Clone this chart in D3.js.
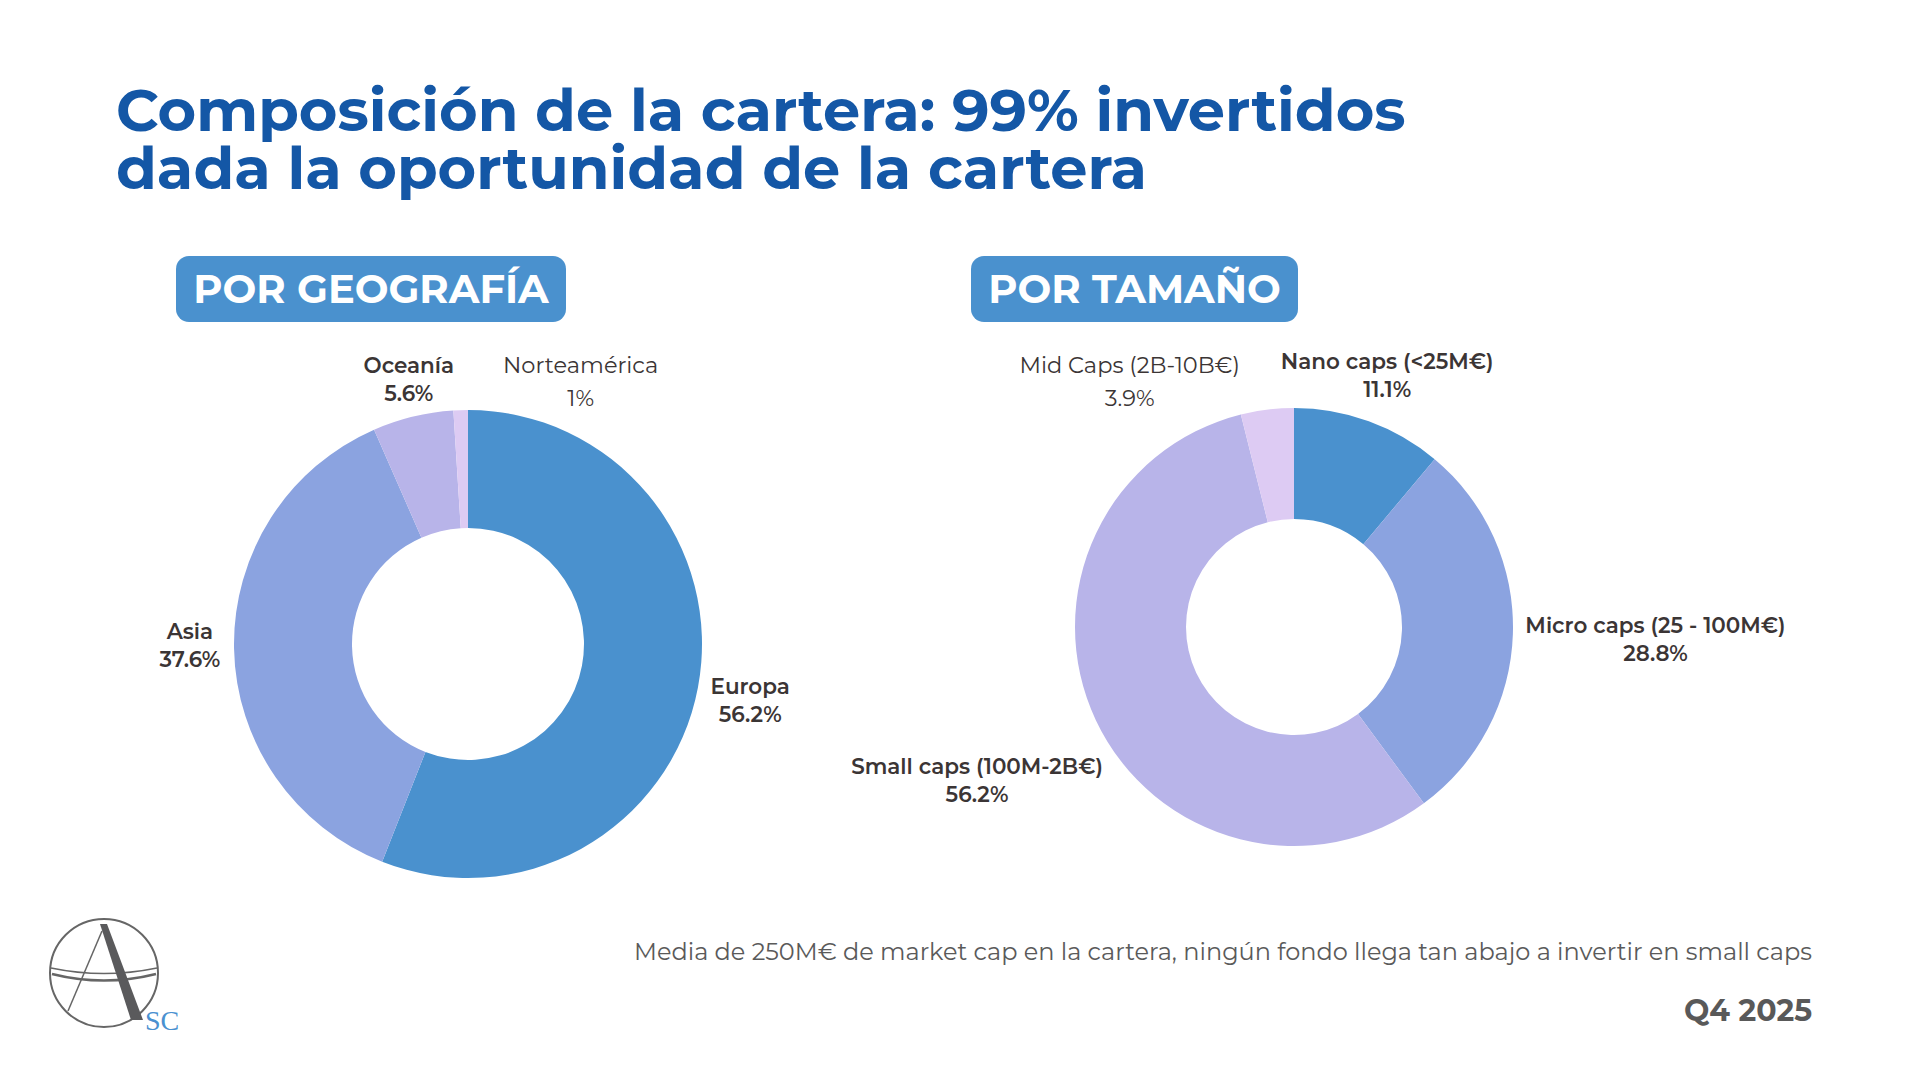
<!DOCTYPE html>
<html>
<head>
<meta charset="utf-8">
<script src="https://cdn.jsdelivr.net/npm/d3@7"></script>
<style>
  html, body { margin: 0; padding: 0; background: #fff; }
  #root { width: 1920px; height: 1080px; }
  text { font-family: Montserrat, Inter, "Open Sans", sans-serif; }
</style>
</head>
<body>
<div id="root"></div>
<script>
// --- data ---
const geoNames = ["Europa", "Asia", "Oceanía", "Norteamérica"];
const geoValues = [56.2, 37.6, 5.6, 1];
const geoLabels = ["56.2%", "37.6%", "5.6%", "1%"];

const sizeNames = ["Nano caps (<25M€)", "Micro caps (25 - 100M€)", "Small caps (100M-2B€)", "Mid Caps (2B-10B€)"];
const sizeValues = [11.1, 28.8, 56.2, 3.9];
const sizeLabels = ["11.1%", "28.8%", "56.2%", "3.9%"];

const titleLines = ["Composición de la cartera: 99% invertidos", "dada la oportunidad de la cartera"];
const footNote = "Media de 250M€ de market cap en la cartera, ningún fondo llega tan abajo a invertir en small caps";
const period = "Q4 2025";

// --- styling ---
const sliceColors = ["#4a91ce", "#8ba3e0", "#b8b4e9", "#ddcbf3"];
const textDark = "#3b3535";
const titleBlue = "#1457a6";
const pillBlue = "#4a91ce";
const regularLabels = ["Norteamérica", "Mid Caps (2B-10B€)"];
// labels PowerPoint pushed aside to avoid collisions
const labelNudge = {
	"Europa": [-5, 4],
	"Asia": [5, -4],
	"Oceanía": [11, 7],
	"Norteamérica": [123, 21],
	"Nano caps (<25M€)": [-24, -4],
	"Micro caps (25 - 100M€)": [-5, 4],
	"Small caps (100M-2B€)": [11, 41],
	"Mid Caps (2B-10B€)": [-122, 20]
};

const svg = d3.select("#root")
	.append("svg")
		.attr("width", 1920)
		.attr("height", 1080);

// title
svg.append("g")
	.selectAll("text")
	.data(titleLines)
	.enter()
	.append("text")
		.attr("x", 116)
		.attr("y", (d, i) => 131 + i * 58)
		.attr("fill", titleBlue)
		.attr("font-size", 59)
		.attr("font-weight", 700)
		.text(d => d);

const drawPill = (label, x, y, w, h) => {
	const g = svg.append("g");
	g.append("rect")
		.attr("x", x).attr("y", y)
		.attr("width", w).attr("height", h)
		.attr("rx", 13)
		.attr("fill", pillBlue);
	g.append("text")
		.attr("x", x + w / 2)
		.attr("y", y + h / 2 + 14)
		.attr("text-anchor", "middle")
		.attr("fill", "#fff")
		.attr("font-size", 40)
		.attr("font-weight", 700)
		.text(label);
};

drawPill("POR GEOGRAFÍA", 176, 256, 390, 66);
drawPill("POR TAMAÑO", 971, 256, 327, 66);

const drawDonut = (names, values, labels, cx, cy, outer, inner) => {
	const rows = names.map((n, i) => ({ name: n, value: values[i], label: labels[i], i }));

	const pie = d3.pie()
		.value(d => d.value)
		.sort(null);

	const arc = d3.arc()
		.innerRadius(inner)
		.outerRadius(outer);

	const g = svg.append("g")
		.attr("transform", `translate(${cx}, ${cy})`);

	const arcs = pie(rows);

	g.selectAll("path")
		.data(arcs)
		.enter()
		.append("path")
			.attr("d", arc)
			.attr("fill", d => sliceColors[d.data.i]);

	const gap = outer * 1.08;

	arcs.forEach(d => {
		const a = (d.startAngle + d.endAngle) / 2;
		const sx = Math.sin(a), sy = -Math.cos(a);
		const regular = regularLabels.includes(d.data.name);
		const lineGap = regular ? 33 : 28;

		const lg = g.append("g");
		const t = lg.append("text")
			.attr("text-anchor", "middle")
			.attr("fill", textDark)
			.attr("font-size", regular ? 22.5 : 21.5)
			.attr("font-weight", regular ? 400 : 600);
		t.append("tspan").attr("x", 0).attr("y", 0).text(d.data.name);
		t.append("tspan").attr("x", 0).attr("y", lineGap).text(d.data.label);

		const b = t.node().getBBox();
		const nudge = labelNudge[d.data.name] || [0, 0];
		const tx = gap * sx + sx * b.width / 2 + nudge[0];
		const ty = gap * sy + sy * b.height / 2 + nudge[1];
		lg.attr("transform", `translate(${tx - (b.x + b.width / 2)}, ${ty - (b.y + b.height / 2)})`);
	});
};

drawDonut(geoNames, geoValues, geoLabels, 468, 644, 234, 116);
drawDonut(sizeNames, sizeValues, sizeLabels, 1294, 627, 219, 108);

// footer
svg.append("text")
	.attr("x", 1812)
	.attr("y", 960)
	.attr("text-anchor", "end")
	.attr("fill", "#5a5a5a")
	.attr("font-size", 24)
	.text(footNote);

svg.append("text")
	.attr("x", 1812)
	.attr("y", 1021)
	.attr("text-anchor", "end")
	.attr("fill", "#595959")
	.attr("font-size", 30)
	.attr("font-weight", 700)
	.text(period);

// logo
const logo = svg.append("g")
	.attr("transform", "translate(104, 973)");

logo.append("circle")
	.attr("r", 54)
	.attr("fill", "none")
	.attr("stroke", "#666")
	.attr("stroke-width", 2);

logo.append("path")
	.attr("d", "M-53,-5 Q0,6 53,-5")
	.attr("fill", "none")
	.attr("stroke", "#666")
	.attr("stroke-width", 1.5);

logo.append("path")
	.attr("d", "M-52,1 Q0,14 52,1")
	.attr("fill", "none")
	.attr("stroke", "#666")
	.attr("stroke-width", 2.5);

logo.append("path")
	.attr("d", "M-2,-42 L-36,38")
	.attr("stroke", "#666")
	.attr("stroke-width", 1.5);

logo.append("path")
	.attr("d", "M-4,-49 L3,-49 L39,47 L27,47 Z")
	.attr("fill", "#5a5a5c");

logo.append("text")
	.attr("x", 41)
	.attr("y", 57)
	.attr("fill", "#4a90d0")
	.attr("font-size", 28)
	.style("font-family", "'Liberation Serif', 'DejaVu Serif', serif")
	.text("SC");
</script>
</body>
</html>
